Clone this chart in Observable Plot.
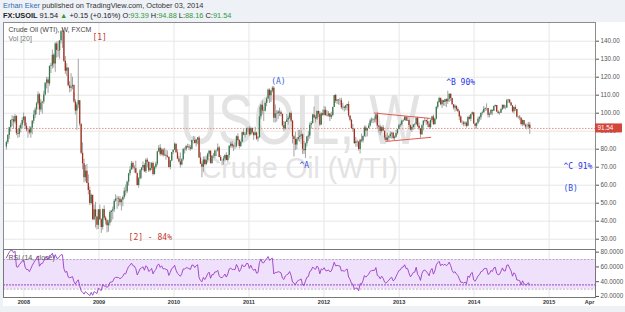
<!DOCTYPE html>
<html><head><meta charset="utf-8">
<script src="https://cdn.jsdelivr.net/npm/d3@7"></script>
<script src="https://cdn.jsdelivr.net/npm/@observablehq/plot@0.6"></script>
<style>
html,body{margin:0;padding:0;background:#eef1f5;width:625px;height:312px;overflow:hidden;font-family:"Liberation Sans",Arial,sans-serif;}
#hdr{height:22px;position:relative;color:#333;font-size:7.4px;white-space:nowrap;}
#l1{position:absolute;left:3px;top:1px;}
#l2{position:absolute;left:3px;top:11px;color:#222;}
#l1 .n{color:#2f6eb5;}
#l2 .g{color:#2f9a3c;}
#chart{margin-left:3px;width:622px;background:#fff;}
#chart svg{display:block;}
</style></head><body>
<div id="hdr">
<div id="l1"><span class="n">Erhan Eker</span> published on TradingView.com, October 03, 2014</div>
<div id="l2"><b>FX:USOIL</b> 91.54 <span class="g">▲</span> +0.15 (+0.16%) O:<span class="g">93.39</span> H:<span class="g">94.88</span> L:<span class="g">88.16</span> C:<span class="g">91.54</span></div>
</div>
<div id="chart"></div>
<script>
// ---- data (weekly candles, first week starts 2007-10-08) ----
const weekStart = "2007-10-08";
const warmupCloses = [72.8,73.9,75.6,77.0,75.5,71.5,71.9,71.1,74.0,76.7,79.1,81.6,81.7,81.2];
const closes = [
// 2007
83.7,87.6,91.9,95.9, 96.3,95.1,98.2,88.7, 88.3,91.3,93.3,96.0,97.9,
// 2008
92.7,90.6,90.7,89.0, 91.8,95.5,98.8,101.8, 105.2,110.2,101.8,105.6,106.2, 110.1,116.7,118.5,116.3,
126.0,126.3,132.2,127.4, 138.5,134.9,134.6,140.2,145.3, 145.1,128.9,123.3,125.1, 115.2,113.8,114.6,115.5,
106.2,101.2,104.6,106.9,93.9, 77.7,71.9,64.2,67.8, 61.0,57.0,49.9,54.4, 40.8,46.3,42.4,37.7,46.3,
// 2009
40.8,36.5,46.5,41.7, 40.2,37.5,38.9,44.8, 45.5,46.3,51.1,52.4,52.5, 52.2,50.3,51.6,53.2,
56.7,56.3,61.7,66.3, 68.4,72.0,69.6,69.2,66.7, 59.9,63.6,68.0,69.5, 70.9,67.5,73.9,72.7,68.0,
69.3,72.0,66.0,69.9, 71.8,78.5,80.5,77.0, 79.6,76.4,76.7,76.1,75.5, 69.9,73.4,78.1,79.4,
// 2010
82.8,78.0,74.5,72.9, 71.2,74.1,79.8,79.7, 81.5,81.2,80.7,80.0,84.9, 84.9,83.2,85.1,86.2,
75.1,71.6,70.0,74.0,71.5, 73.8,77.2,78.9,72.1, 76.1,76.0,79.0,79.0, 80.7,75.4,73.5,73.4,74.6,
76.5,73.7,76.5,81.6, 82.7,81.3,81.7,81.4, 86.9,84.9,81.5,83.8,89.2, 87.8,88.0,91.5,91.4,
// 2011
88.0,91.5,89.1,87.5,89.0, 85.6,86.2,97.9,104.4, 101.2,101.1,105.4,107.9, 112.8,109.7,112.3,113.9,
97.2,99.7,99.5,100.6,100.2, 99.3,93.0,91.2,94.9, 96.2,97.2,99.9,95.7, 86.9,85.4,82.3,85.4,86.5,
87.2,88.0,79.9,79.2, 83.0,86.8,87.4,93.3,94.3, 99.0,97.4,96.8,101.0, 99.4,93.5,99.7,98.8,
// 2012
101.6,98.7,98.5,99.6,97.8, 98.7,103.2,109.8,106.7, 107.4,107.1,106.9,103.0, 103.3,102.8,104.0,104.9,98.5,
96.1,91.5,90.9,83.2, 84.1,84.0,79.8,85.0, 84.5,87.1,91.8,90.1,91.4, 92.9,95.6,96.2,96.5,
96.4,99.0,92.9,92.2, 89.9,91.9,90.1,86.3,84.9, 86.1,86.9,88.3,88.9, 85.9,86.7,88.7,90.8,93.1,
// 2013
93.6,95.6,95.9,97.8, 95.7,95.9,93.1,90.7, 92.0,93.5,93.7,97.2, 92.7,91.3,88.0,93.0,95.6,
96.0,95.2,93.8,92.0, 96.0,97.9,93.7,96.6, 103.2,106.0,108.1,104.7,106.9, 106.0,107.5,106.4,107.7,
110.5,108.2,104.7,102.9,103.8, 102.0,100.8,97.9,94.6, 94.6,93.8,94.4,92.7, 97.7,96.6,99.3,100.3,94.0,
// 2014
92.7,94.4,96.6,97.5, 99.9,100.3,102.2,102.6, 102.6,98.9,99.5,101.7,101.1, 103.7,104.3,100.6,99.8,
100.0,102.0,104.4,102.7, 102.7,106.9,107.3,105.7,104.1, 100.8,103.1,102.1,97.9, 97.7,97.4,93.7,96.0,
93.3,92.3,92.4,93.4,91.54
];
const highs = [
84.5,88.2,92.2,96.2, 98.6,98.2,99.3,98.5, 91.0,93.0,94.5,97.5,100.1,
97.8,94.5,91.5,92.5, 92.5,96.0,101.3,103.0, 106.0,111.8,111.0,107.5,106.5, 112.2,117.0,119.9,119.9,
126.2,127.8,135.1,133.0, 139.1,139.5,139.9,140.4,145.9, 147.3,146.0,131.5,127.5, 121.0,117.5,122.0,120.0,
111.5,107.5,105.7,130.0,107.0, 94.0,83.5,74.5,71.0, 71.5,65.7,59.0,55.0, 51.3,49.0,50.5,42.5,46.5,
49.0,41.5,46.7,48.5, 42.7,40.9,40.5,45.8, 46.0,47.9,52.0,54.7,53.8, 53.5,53.7,52.5,54.0,
58.6,60.1,62.3,66.6, 70.3,73.2,72.9,70.8,73.4, 65.0,64.2,68.7,69.9, 73.0,71.9,74.7,75.0,72.8,
72.5,72.6,72.9,70.5, 72.9,78.9,82.0,82.5, 80.5,80.2,80.5,79.5,79.0, 75.5,73.8,78.2,79.6,
83.5,82.9,79.7,76.0, 77.9,74.7,80.5,80.7, 82.0,82.8,82.6,82.0,85.0, 87.1,86.8,85.4,86.5,
87.2,78.0,73.0,75.7,75.7, 76.2,77.8,79.3,79.0, 76.5,77.7,79.4,79.6, 82.9,81.5,76.5,74.0,75.9,
76.9,78.0,76.6,81.9, 83.8,84.3,82.4,83.5, 87.4,88.6,85.2,84.2,89.5, 90.8,89.1,91.6,92.0,
92.6,92.0,91.8,89.6,92.2, 89.5,87.0,103.4,104.9, 106.9,103.4,106.2,108.8, 113.5,113.5,112.6,114.8,
114.8,104.6,101.4,101.5,102.7, 101.2,99.6,95.4,95.4, 99.3,98.3,100.3,100.6, 95.7,87.5,89.5,86.3,90.5,
90.5,90.5,88.3,84.4, 83.4,87.1,89.7,94.7,95.4, 99.4,103.4,98.6,101.2, 101.2,100.9,100.2,101.8,
103.7,103.4,101.3,100.9,99.8, 100.5,103.4,109.9,110.5, 107.4,107.4,108.3,108.3, 105.5,103.8,104.4,105.0,106.4,
98.5,96.6,93.7,91.0, 86.5,85.1,84.2,85.5, 88.4,87.3,92.9,92.9,91.6, 94.2,96.8,97.4,97.1,
97.9,99.4,100.4,93.0, 93.0,92.6,93.2,89.0,87.9, 88.8,87.5,89.8,89.4, 89.4,87.4,90.5,90.9,93.9,
94.5,95.7,96.7,98.2, 98.0,97.9,97.8,93.4, 92.4,93.8,94.4,97.4, 97.8,94.6,91.0,93.5,95.8,
97.3,96.2,97.1,95.3, 96.3,98.3,99.0,97.1, 103.9,106.6,108.9,108.5,107.5, 106.8,107.8,108.0,112.2,
110.7,110.7,108.3,104.5,104.6, 104.1,102.9,101.4,98.6, 95.7,95.5,95.3,95.1, 97.9,98.7,99.4,100.7,100.0,
94.2,94.6,97.8,98.3, 100.2,101.2,103.8,103.0, 105.2,102.5,100.1,101.8,101.5, 104.0,104.5,104.1,101.4,
100.6,102.5,104.5,104.4, 104.1,107.7,107.7,107.5,106.0, 104.2,103.4,104.5,102.1, 98.3,98.7,97.1,96.2,
95.4,93.9,94.1,94.9,94.88
];
const lows = [
79.5,82.6,85.5,89.5, 92.5,91.0,94.0,87.5, 85.9,86.5,89.0,91.5,94.5,
91.0,89.5,86.1,88.0, 86.1,88.0,94.0,97.0, 99.0,104.5,98.7,100.5,99.5, 105.0,109.5,113.5,111.0,
115.0,122.0,124.5,125.0, 122.7,130.5,131.0,130.0,138.5, 136.0,128.2,121.5,120.4, 114.6,111.3,111.8,113.0,
105.5,99.0,90.5,102.5,92.5, 77.0,68.6,61.3,61.8, 60.8,54.6,48.6,49.0, 40.5,40.3,36.2,35.1,35.4,
40.5,33.2,35.0,40.5, 37.9,33.5,33.9,37.3, 39.4,40.7,44.8,50.5,46.6, 48.0,48.5,45.7,48.0,
52.2,54.0,55.3,59.5, 65.1,68.4,68.5,66.7,66.2, 59.5,58.3,62.9,63.5, 68.2,67.0,66.5,69.6,67.0,
67.4,68.2,65.1,65.6, 68.9,70.7,78.3,76.0, 76.4,75.6,76.0,73.9,75.0, 69.5,68.6,73.0,77.1,
79.5,77.7,74.2,72.4, 69.5,70.8,73.4,77.3, 78.7,80.5,79.2,78.9,79.6, 84.4,83.0,81.2,82.5,
74.9,71.6,64.2,67.2,71.1, 70.8,72.2,75.6,71.7, 71.5,74.8,74.5,75.8, 78.4,75.2,73.2,70.8,71.2,
72.8,73.6,72.6,74.9, 80.5,80.3,78.7,79.8, 80.7,84.3,80.1,80.9,83.7, 87.4,86.3,87.7,89.3,
87.0,87.5,88.3,84.9,88.0, 84.9,83.9,86.7,96.3, 99.0,95.4,100.7,103.6, 107.8,105.4,105.9,111.2,
94.6,94.6,95.1,96.4,98.1, 98.0,92.2,89.6,90.5, 95.0,93.4,96.5,94.8, 82.9,75.7,79.2,79.6,84.3,
83.8,85.3,77.1,77.1, 74.9,81.3,84.3,85.6,91.1, 93.9,97.0,94.6,96.0, 97.6,92.5,93.2,98.3,
98.4,98.3,97.9,97.8,95.4, 96.5,97.9,103.2,105.4, 104.8,104.5,104.4,102.0, 101.4,100.7,101.4,101.2,97.5,
95.2,91.0,89.3,82.6, 81.2,81.1,78.9,77.3, 83.6,83.3,86.7,86.4,86.9, 91.8,92.3,94.3,94.1,
94.6,94.5,91.0,88.9, 87.5,88.9,89.8,84.9,84.2, 84.1,84.1,85.8,85.6, 85.1,84.6,86.2,87.8,91.5,
92.1,92.7,94.9,95.7, 95.4,95.4,92.0,90.1, 89.3,90.5,91.7,93.1, 92.0,90.5,86.1,87.7,90.2,
94.6,93.1,92.1,91.1, 91.1,94.9,93.1,93.3, 96.2,102.2,105.5,104.1,102.6, 103.9,103.7,103.1,104.9,
106.0,106.4,104.5,101.8,100.6, 101.0,100.5,95.8,94.5, 93.3,92.5,92.5,91.8, 92.4,96.2,95.3,98.5,93.9,
91.2,91.2,93.7,95.0, 96.0,98.8,100.0,100.9, 101.2,97.4,97.4,98.6,98.7, 100.9,103.3,100.4,99.2,
98.9,99.9,101.6,102.1, 101.9,102.9,105.5,105.2,103.7, 100.1,99.5,101.0,97.2, 96.7,95.8,92.9,92.5,
92.9,91.3,90.7,91.6,88.16
];
const lastClose = 91.54;
const priceTicks = [30,40,50,60,70,80,90,100,110,120,130,140];
const rsiTicks = [20,40,60,80];
const rsiBand = [30,70];
const yearDates = ["2008-01-01","2009-01-01","2010-01-01","2011-01-01","2012-01-01","2013-01-01","2014-01-01","2015-01-01"];
const timeTickDates = yearDates.concat(["2015-07-17"]);
const timeTickLabels = ["2008","2009","2010","2011","2012","2013","2014","2015","Apr"];
const xDomainDates = ["2007-09-24","2015-08-15"];
const priceDomain = [24.28,150.39];
const rsiDomain = [18.6,83.6];
// annotations (text, anchor date, price, colour)
const annotText  = ["[1]","[2] - 84%","(A)","^A","^B 90%","^C 91%","(B)"];
const annotDate  = ["2008-11-30","2009-05-25","2011-04-19","2011-09-04","2013-08-18","2015-03-12","2015-03-12"];
const annotPrice = [142.0,31.1,117.6,70.8,117.0,70.4,58.2];
const annotColor = ["#c8392b","#c8392b","#3a64d6","#2a4de0","#2a35e8","#2a35e8","#2a4de0"];
// trend lines (triangle)
const trendStart = ["2012-08-31","2012-10-27"];
const trendStartPrice = [100.1,84.3];
const trendEnd = ["2013-06-03","2013-06-06"];
const trendEndPrice = [97.1,86.6];
// watermark
const wmSymbol = "USOIL, W";
const wmName = "Crude Oil (WTI)";

// ---- build tables ----
const D = s => new Date(s + "T00:00:00Z");
const t0 = D(weekStart);
const bars = closes.map((c, i) => ({
  date: new Date(+t0 + i * 7 * 864e5),
  open: i ? closes[i - 1] : warmupCloses[warmupCloses.length - 1],
  close: c, high: highs[i], low: lows[i]
}));
// RSI(14, close), Wilder smoothing
const all = warmupCloses.concat(closes);
let ag = 0, al = 0; const rsiVals = [];
for (let k = 1; k < all.length; k++) {
  const ch = all[k] - all[k - 1], g = Math.max(ch, 0), l = Math.max(-ch, 0);
  if (k <= 14) { ag += g / 14; al += l / 14; } else { ag = (ag * 13 + g) / 14; al = (al * 13 + l) / 14; }
  if (k >= 14) rsiVals.push(al === 0 ? 100 : 100 - 100 / (1 + ag / al));
}
const rsiData = bars.map((b, i) => ({date: b.date, rsi: rsiVals[i]}));
const rsiLast = rsiVals[rsiVals.length - 1];
const xDomain = xDomainDates.map(D);
const annots = annotText.map((t, i) => ({t, date: D(annotDate[i]), p: annotPrice[i], c: annotColor[i]}));
const trends = trendStart.map((s, i) => ({d1: D(s), p1: trendStartPrice[i], d2: D(trendEnd[i]), p2: trendEndPrice[i]}));
const yearD = yearDates.map(D);
const labelMap = new Map(timeTickDates.map((s, i) => [+D(s), timeTickLabels[i]]));

const font = "'Liberation Sans', Arial, sans-serif";
const grid = {stroke: "#e7e7e7", strokeOpacity: 1};

const main = Plot.plot({
  width: 622, height: 227, marginLeft: 0, marginRight: 30, marginTop: 0, marginBottom: 0,
  style: {fontFamily: font, fontSize: "6.3px", color: "#555", background: "#fff", overflow: "visible"},
  x: {type: "utc", domain: xDomain, axis: null},
  y: {domain: priceDomain, axis: "right", ticks: priceTicks, tickFormat: d => d.toFixed(2), tickSize: 3, tickPadding: 2, label: null},
  marks: [
    Plot.gridX(yearD, grid),
    Plot.gridY(priceTicks, grid),
    Plot.text([wmSymbol], {frameAnchor: "middle", dx: 0, dy: -14, fontSize: 70, fill: "#e3e3e3", fontFamily: font}),
    Plot.text([wmName], {frameAnchor: "middle", dx: 0, dy: 32, fontSize: 30, fill: "#e3e3e3", fontFamily: font}),
    Plot.ruleY([lastClose], {stroke: "#e9908a", strokeDasharray: "1.5,1.5"}),
    Plot.ruleX(bars, {x: "date", y1: "low", y2: "high", stroke: "#a3a3a3", strokeWidth: 1}),
    Plot.ruleX(bars.filter(d => d.close >= d.open), {x: "date", y1: "open", y2: "close", stroke: "#347a4c", strokeWidth: 1.3}),
    Plot.ruleX(bars.filter(d => d.close < d.open), {x: "date", y1: "open", y2: "close", stroke: "#a4301f", strokeWidth: 1.3}),
    Plot.link(trends, {x1: "d1", y1: "p1", x2: "d2", y2: "p2", stroke: "#e25a52", strokeWidth: 1}),
    Plot.text(annots, {x: "date", y: "p", text: "t", fill: "c", textAnchor: "start", fontSize: 8, fontFamily: "'DejaVu Sans Mono', monospace"}),
    Plot.text(["Crude Oil (WTI), W, FXCM"], {frameAnchor: "top-left", dx: 5, dy: 5, fontSize: 7, fill: "#444", fontFamily: font}),
    Plot.text(["Vol [20]"], {frameAnchor: "top-left", dx: 5, dy: 14, fontSize: 7, fill: "#777", fontFamily: font}),
    Plot.frame({stroke: "#8d8d8d"})
  ]
});

// watermark widths as in the reference
const sel = d3.select(main);
sel.selectAll("text").filter(function () { return this.textContent === wmSymbol; })
  .attr("textLength", 240).attr("lengthAdjust", "spacingAndGlyphs");
sel.selectAll("text").filter(function () { return this.textContent === wmName; })
  .attr("textLength", 197).attr("lengthAdjust", "spacingAndGlyphs");

// last price label on the price scale
const yy = main.scale("y").apply(lastClose);
sel.append("rect").attr("x", 592).attr("y", yy - 4.5).attr("width", 27).attr("height", 9).attr("fill", "#d2473a");
sel.append("text").attr("x", 594.5).attr("y", yy + 2.2).attr("text-anchor", "start").attr("fill", "#fff")
  .attr("font-size", 6.3).attr("font-family", font).text(lastClose.toFixed(2));

const rsiPlot = Plot.plot({
  width: 622, height: 57, marginLeft: 0, marginRight: 30, marginTop: 0, marginBottom: 9,
  style: {fontFamily: font, fontSize: "6.3px", color: "#555", background: "#fff", overflow: "visible"},
  x: {type: "utc", domain: xDomain, ticks: timeTickDates.map(D), tickFormat: d => labelMap.get(+d), tickSize: 0, tickPadding: 3, label: null},
  y: {domain: rsiDomain, axis: "right", ticks: rsiTicks, tickFormat: d => d.toFixed(4), tickSize: 3, tickPadding: 2, label: null},
  marks: [
    Plot.gridX(yearD, grid),
    Plot.rect([{a: xDomain[0], b: xDomain[1], lo: rsiBand[0], hi: rsiBand[1]}], {x1: "a", x2: "b", y1: "lo", y2: "hi", fill: "#efe0fb"}),
    Plot.ruleY(rsiBand, {stroke: "#b7a9c4", strokeDasharray: "2,1.5"}),
    Plot.ruleY([rsiLast], {stroke: "#9a47bd", strokeDasharray: "2,1"}),
    Plot.text(["RSI (14, close)"], {frameAnchor: "top-left", dx: 5, dy: 6, fontSize: 7, fill: "#555", fontFamily: font}),
    Plot.line(rsiData, {x: "date", y: "rsi", stroke: "#9b3cc4", strokeWidth: 0.9}),
    Plot.frame({stroke: "#777"})
  ]
});
d3.select(rsiPlot).selectAll("[aria-label='x-axis tick label'] text, [aria-label='x-axis tick label']").attr("font-weight", "bold").attr("fill", "#333").attr("font-size", 5.5);

document.getElementById("chart").append(main, rsiPlot);
</script>
</body></html>
